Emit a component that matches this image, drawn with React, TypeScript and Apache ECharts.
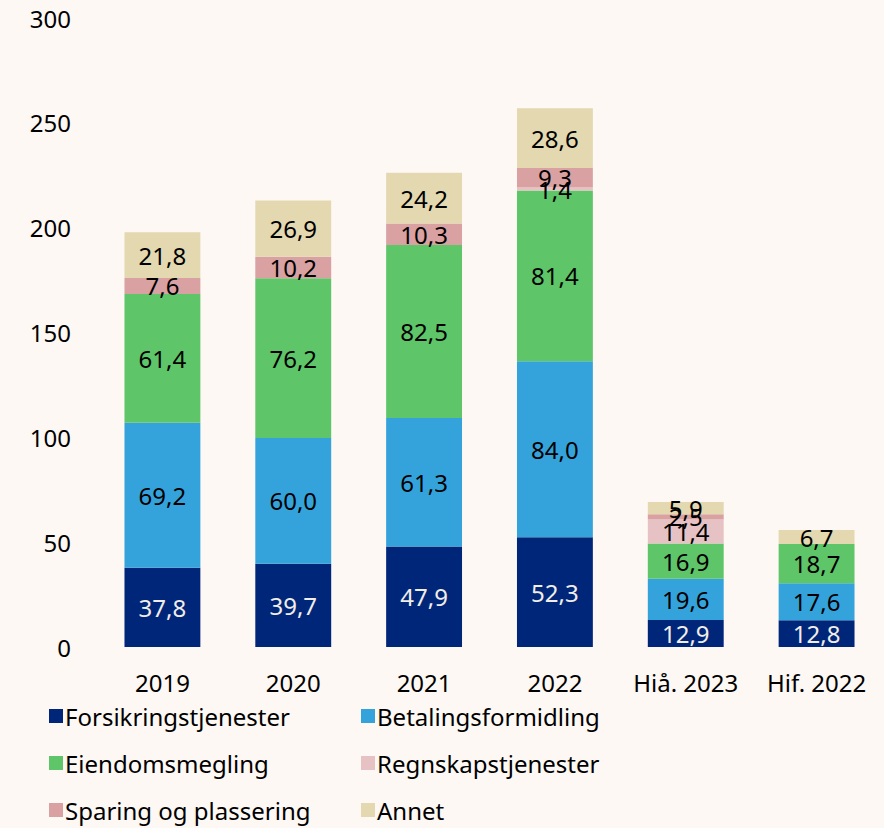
import React, { useEffect, useRef } from "react";
import * as echarts from "echarts";

const categories = ["2019", "2020", "2021", "2022", "Hiå. 2023", "Hif. 2022"];
const seriesNames = [
  "Forsikringstjenester",
  "Betalingsformidling",
  "Eiendomsmegling",
  "Regnskapstjenester",
  "Sparing og plassering",
  "Annet",
];
const forsikring = [37.8, 39.7, 47.9, 52.3, 12.9, 12.8];
const betaling = [69.2, 60.0, 61.3, 84.0, 19.6, 17.6];
const eiendom = [61.4, 76.2, 82.5, 81.4, 16.9, 18.7];
const regnskap = [null, null, null, 1.4, 11.4, null];
const sparing = [7.6, 10.2, 10.3, 9.3, 2.5, null];
const annet = [21.8, 26.9, 24.2, 28.6, 5.9, 6.7];
const yTicks = [0, 50, 100, 150, 200, 250, 300];

const colors = ["#00267A", "#34A3DC", "#5EC569", "#E7C2C4", "#D9A1A1", "#E3D8B0"];
const labelColors = ["#F2EEE6", "#000000", "#000000", "#000000", "#000000", "#000000"];
const FONT = "Noto Sans";
const FS = 24;

export default function App() {
  const ref = useRef<HTMLDivElement>(null);
  useEffect(() => {
    if (!ref.current) return;
    const chart = echarts.init(ref.current, undefined, { renderer: "svg" });
    const data = [forsikring, betaling, eiendom, regnskap, sparing, annet];
    const legendBase = {
      orient: "vertical",
      top: 699,
      itemWidth: 14,
      itemHeight: 14,
      itemGap: 23,
      icon: "rect",
      textStyle: { fontSize: FS, color: "#000", fontFamily: FONT, padding: [0, 0, 0, -3] },
    };
    chart.setOption({
      animation: false,
      backgroundColor: "#FEF8F4",
      textStyle: { fontFamily: FONT },
      grid: { left: 97, right: 2, top: 18, bottom: 181, containLabel: false },
      legend: [
        { ...legendBase, data: [seriesNames[0], seriesNames[2], seriesNames[4]], left: 44 },
        { ...legendBase, data: [seriesNames[1], seriesNames[3], seriesNames[5]], left: 356 },
      ],
      xAxis: {
        type: "category",
        data: categories,
        axisLine: { show: false },
        axisTick: { show: false },
        axisLabel: { fontSize: FS, color: "#000", margin: 23, fontFamily: FONT, interval: 0 },
      },
      yAxis: {
        type: "value",
        min: 0,
        max: 300,
        interval: 50,
        splitLine: { show: false },
        axisLine: { show: false },
        axisTick: { show: false },
        axisLabel: {
          fontSize: FS,
          color: "#000",
          margin: 26,
          fontFamily: FONT,
          formatter: (v: number) => (yTicks.includes(v) ? String(v) : ""),
        },
      },
      series: data.map((d, i) => ({
        name: seriesNames[i],
        type: "bar",
        stack: "total",
        barWidth: "58%",
        data: d.map((v) => (v === null ? "-" : v)),
        itemStyle: { color: colors[i] },
        label: {
          show: true,
          position: "inside",
          fontSize: FS,
          color: labelColors[i],
          fontFamily: FONT,
          formatter: (p: any) =>
            typeof p.value === "number" ? p.value.toFixed(1).replace(".", ",") : "",
        },
      })),
    });
    return () => chart.dispose();
  }, []);
  return (
    <div
      ref={ref}
      style={{ position: "fixed", left: 0, top: 0, width: 884, height: 828 }}
    />
  );
}
